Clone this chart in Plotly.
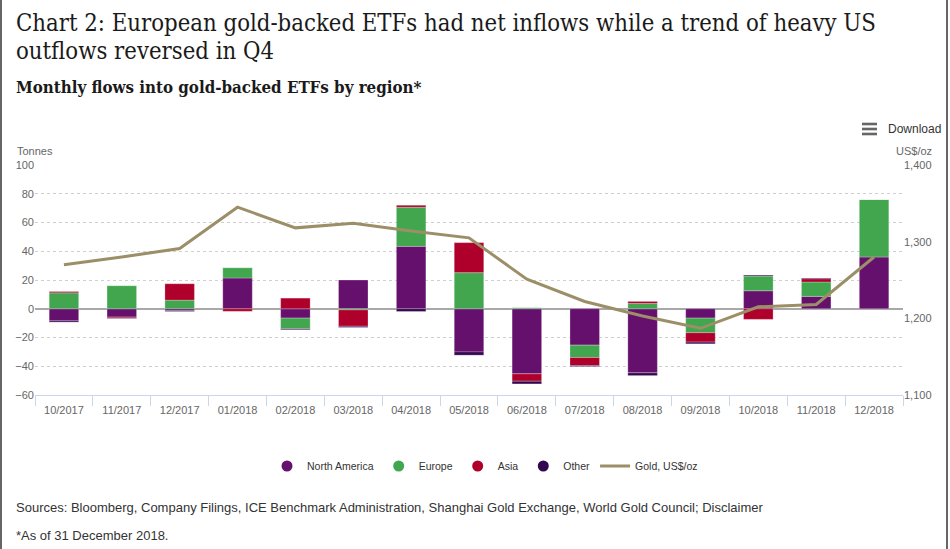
import plotly.graph_objects as go

months = ["10/2017", "11/2017", "12/2017", "01/2018", "02/2018", "03/2018", "04/2018",
          "05/2018", "06/2018", "07/2018", "08/2018", "09/2018", "10/2018", "11/2018", "12/2018"]
north_america = [-8.4, -5.8, -1.2, 21.4, -6.5, 20.0, 43.4, -30.0, -45.3, -25.3, -44.6, -6.5, 12.5, 8.6, 36.0]
europe = [11.1, 16.0, 6.0, 7.2, -7.4, -0.8, 27.2, 25.1, 0.7, -8.6, 3.7, -10.2, 10.2, 10.0, 40.0]
asia = [0.9, -0.8, 11.4, -1.8, 7.4, -11.4, 1.4, 20.9, -5.1, -5.6, 1.4, -6.5, -7.4, 2.3, 0.0]
other = [-0.9, -0.3, -0.7, 0.0, -0.7, -0.8, -1.9, -2.3, -1.9, -0.7, -1.9, -1.2, 0.7, 0.5, 0.0]
gold = [1270, 1280, 1291, 1345, 1318, 1324, 1314, 1305, 1251, 1222, 1203, 1187, 1215, 1218, 1280]

series = [("North America", north_america, "#66106e"),
          ("Europe", europe, "#42a64f"),
          ("Asia", asia, "#ae002b"),
          ("Other", other, "#33074f")]
gold_color = "#9c8f68"

W, H = 950, 549
L, R, T, B = 35, 903, 165, 395


def px(x):
    return (x - L) / (R - L)


def py(y):
    return (B - y) / (B - T)


fig = go.Figure()
for name, vals, col in series:
    fig.add_trace(go.Bar(x=months, y=vals, name=name, marker_color=col,
                         marker_line=dict(color="rgba(255,255,255,0.5)", width=0.5),
                         showlegend=False))
for name, vals, col in series:
    fig.add_trace(go.Scatter(x=[None], y=[None], mode="markers", name=name,
                             marker=dict(symbol="circle", size=11, color=col)))
fig.add_trace(go.Scatter(x=months, y=gold, mode="lines", name="Gold, US$/oz",
                         yaxis="y2", line=dict(color=gold_color, width=3)))

axis_font = dict(family="Liberation Sans, Arial, sans-serif", size=11, color="#666666")
fig.update_layout(
    width=W, height=H,
    margin=dict(l=L, r=W - R, t=T, b=H - B),
    paper_bgcolor="white", plot_bgcolor="white",
    barmode="relative", bargap=0.49,
    font=dict(family="Liberation Sans, Arial, sans-serif", color="#333333"),
    xaxis=dict(type="category", tickson="boundaries", ticks="outside", ticklen=10,
               tickcolor="#ccd6eb", showline=True, linecolor="#ccd6eb", linewidth=1,
               showgrid=False, tickfont=axis_font, ticklabelstandoff=5),
    yaxis=dict(range=[-60, 100], dtick=20, showgrid=True, gridcolor="#d0d0d0",
               griddash="dot", gridwidth=1, zeroline=True, zerolinecolor="#a8a8a8",
               zerolinewidth=2, tickfont=axis_font, ticks=""),
    yaxis2=dict(range=[1100, 1400], dtick=100, overlaying="y", side="right",
                showgrid=False, zeroline=False, tickformat=",", tickfont=axis_font),
    legend=dict(orientation="h", xref="container", yref="container", x=(485) / W, y=1 - 466 / H,
                xanchor="center", yanchor="middle", itemwidth=30,
                font=dict(family="Liberation Sans, Arial, sans-serif", size=10.5, color="#333333")),
)

title_font = "DejaVu Serif Condensed, Liberation Serif, serif"
ann = [
    dict(x=px(14), y=py(23), text="Chart 2: European gold-backed ETFs had net inflows while a trend of heavy US",
         font=dict(family=title_font, size=23.7, color="#1a1a1a"), xanchor="left", yanchor="middle"),
    dict(x=px(14), y=py(51), text="outflows reversed in Q4",
         font=dict(family=title_font, size=23.7, color="#1a1a1a"), xanchor="left", yanchor="middle"),
    dict(x=px(14), y=py(87), text="<b>Monthly flows into gold-backed ETFs by region*</b>",
         font=dict(family=title_font, size=16.8, color="#1a1a1a"), xanchor="left", yanchor="middle"),
    dict(x=px(15), y=py(151), text="Tonnes", font=axis_font, xanchor="left", yanchor="middle"),
    dict(x=px(934), y=py(151), text="US$/oz", font=axis_font, xanchor="right", yanchor="middle"),
    dict(x=px(886), y=py(129), text="Download",
         font=dict(family="Liberation Sans, Arial, sans-serif", size=12, color="#333333"),
         xanchor="left", yanchor="middle"),
    dict(x=px(14), y=py(507),
         text="Sources: Bloomberg, Company Filings, ICE Benchmark Administration, Shanghai Gold Exchange, World Gold Council; Disclaimer",
         font=dict(family="Liberation Sans, Arial, sans-serif", size=13, color="#333333"),
         xanchor="left", yanchor="middle"),
    dict(x=px(14), y=py(535), text="*As of 31 December 2018.",
         font=dict(family="Liberation Sans, Arial, sans-serif", size=13, color="#333333"),
         xanchor="left", yanchor="middle"),
]
for a in ann:
    a.update(xref="paper", yref="paper", showarrow=False)
fig.update_layout(annotations=ann)

shapes = []
for yy in (124, 129, 134):
    shapes.append(dict(type="rect", xref="paper", yref="paper", x0=px(862), x1=px(877),
                       y0=py(yy - 1.3), y1=py(yy + 1.3), fillcolor="#666666", line=dict(width=0)))
for xx in (1, 947):
    shapes.append(dict(type="line", xref="paper", yref="paper", x0=px(xx), x1=px(xx),
                       y0=py(0), y1=py(H), line=dict(color="#666666", width=2)))
fig.update_layout(shapes=shapes)

fig.write_html("out.html")
